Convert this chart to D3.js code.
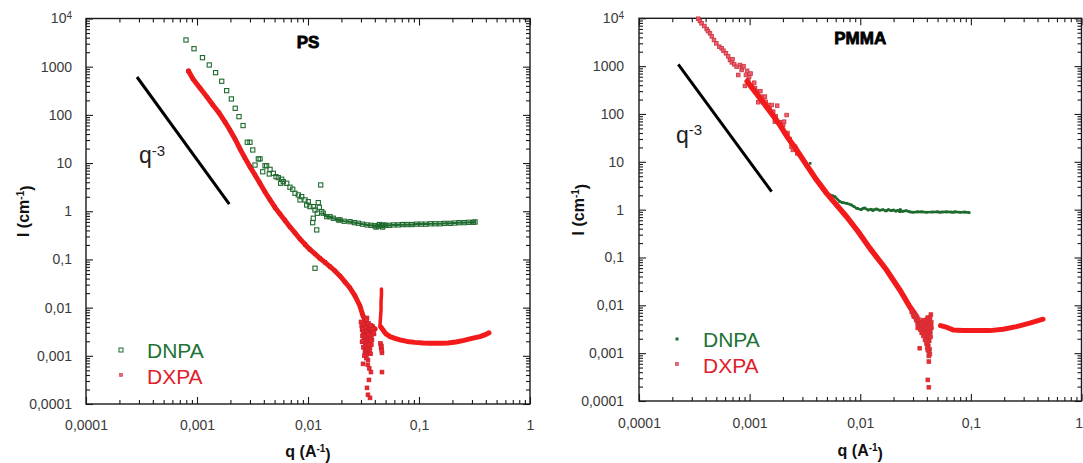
<!DOCTYPE html>
<html><head><meta charset="utf-8">
<script src="https://cdn.jsdelivr.net/npm/d3@7"></script>
<style>body{margin:0;background:#fff}svg{display:block}</style>
</head><body>
<svg id="chart" width="1083" height="463"></svg>
<script>
// ---------- data ----------
const xMajor = [1e-4, 1e-3, 1e-2, 1e-1, 1];
const xMajorLabels = ["0,0001", "0,001", "0,01", "0,1", "1"];
const yMajor = [1e-4, 1e-3, 1e-2, 1e-1, 1, 10, 100, 1000, 1e4];
const yMajorLabels = ["0,0001", "0,001", "0,01", "0,1", "1", "10", "100", "1000", "10^4"];
const seriesNames = ["DNPA", "DXPA"];
const panelTitles = ["PS", "PMMA"];
const slopeLabel = ["q", "-3"];

// PS panel
const psDnpa = [
  [7.96e-4,3580],[9.4e-4,2360],[1.12e-3,1540],[1.29e-3,1085],[1.47e-3,751],[1.67e-3,498],[1.85e-3,318],
  [2.04e-3,214],[2.21e-3,137],[2.39e-3,92],[2.6e-3,60],[2.84e-3,27],[3.0e-3,27],[3.18e-3,18.7],
  [3.57e-3,12.2],[3.7e-3,12.2],[3.33e-3,9.1],[4.1e-3,8.8],[4.24e-3,8.8],[3.91e-3,6.6],[4.55e-3,7.4],
  [4.48e-3,5.94],[4.87e-3,6.14],[5.15e-3,5.22],[5.4e-3,4.98],[5.79e-3,4.61],[5.99e-3,4.11],[5.67e-3,3.81],
  [6.43e-3,3.81],[6.88e-3,3.15],[7.28e-3,2.86],[7.64e-3,2.36],[8.18e-3,2.18],[8.77e-3,2.01],[8.47e-3,1.72],
  [9.4e-3,1.72],[0.01006,1.58],[9.73e-3,1.35],[0.0104,1.25],[0.01116,1.25],[0.01156,1.06],[0.01238,1.51],
  [0.01264,1.21],[0.01213,0.91],[0.01328,0.98],[0.01116,0.716],[0.01102,0.58],[0.01198,0.41],
  [0.01302,3.51],[0.01156,0.0657]
];
const psDnpaFlat = [
  [0.0137,0.91],[0.01474,0.773],[0.0158,0.77],[0.0169,0.716],[0.0188,0.66],[0.01942,0.66],[0.0212,0.62],
  [0.0239,0.608],[0.0262,0.58],[0.0284,0.564],[0.031,0.54],[0.034,0.52],[0.037,0.51],[0.040,0.50],
  [0.041,0.47],[0.043,0.49],[0.044,0.53],[0.046,0.50],[0.047,0.47],[0.048,0.52],[0.050,0.51],[0.054,0.51],
  [0.059,0.52],[0.065,0.52],[0.071,0.53],[0.078,0.53],[0.086,0.53],[0.095,0.54],[0.105,0.54],[0.115,0.54],
  [0.127,0.55],[0.14,0.55],[0.155,0.55],[0.17,0.56],[0.19,0.56],[0.21,0.57],[0.23,0.58],[0.255,0.58],
  [0.28,0.59],[0.31,0.59],[0.32,0.60]
];
const psDxpaBand = [
  [8.38e-4,814],[9.2e-4,556],[1.064e-3,361],[1.23e-3,235],[1.39e-3,160],[1.58e-3,110],[1.79e-3,71],
  [1.98e-3,48.6],[2.2e-3,31.6],[2.44e-3,19.6],[2.7e-3,12.8],[3.0e-3,8.4],[3.33e-3,5.66],[3.69e-3,3.81],
  [4.1e-3,2.51],[4.55e-3,1.72],[5.04e-3,1.2],[5.59e-3,0.88],[6.21e-3,0.644],[6.88e-3,0.472],[7.64e-3,0.355],
  [8.47e-3,0.266],[9.4e-3,0.205],[0.0104,0.161],[0.01156,0.13],[0.01282,0.105],[0.01422,0.0867],
  [0.01578,0.071],[0.0175,0.0577],[0.0194,0.0455],[0.0215,0.0341],[0.0239,0.0256],[0.0265,0.0175],
  [0.0294,0.0108],[0.0313,0.00673],[0.0333,0.00505],[0.0362,0.00417],[0.0402,0.00361]
];
const psDxpaSpike = [
  [0.0459,0.0244],[0.0459,0.0183],[0.0455,0.0131],[0.0455,0.00896],[0.045,0.00611],[0.0445,0.00417]
];
const psDxpaTail = [
  [0.0452,0.0040],[0.0474,0.00345],[0.0504,0.00285],[0.0548,0.0025],[0.0608,0.0023],[0.0674,0.00214],
  [0.078,0.00199],[0.092,0.0019],[0.1087,0.00185],[0.128,0.00182],[0.1545,0.00182],[0.182,0.00185],
  [0.215,0.00194],[0.254,0.00209],[0.3,0.0023],[0.354,0.0025],[0.4015,0.00278],[0.427,0.003]
];
const psDxpaScatter = [
  [0.0307,0.00345],[0.0319,0.00235],[0.0333,0.00168],[0.0347,0.00271],[0.0326,0.00121],[0.0313,0.00068],
  [0.0347,0.00082],[0.0362,0.00146],[0.0377,0.00214],[0.0369,0.00046],[0.0354,0.000316],[0.034,0.000216],
  [0.0347,0.000155],[0.0362,0.000134],[0.030,0.00505],[0.0393,0.00285],[0.0319,0.00379],[0.034,0.00611],
  [0.0354,0.00345],[0.0307,0.00194],[0.032,0.003],[0.033,0.0028],[0.0335,0.0022],[0.0345,0.0019],
  [0.035,0.0024],[0.0355,0.0029],[0.036,0.0033],[0.0365,0.0026],[0.037,0.0031],[0.0375,0.0037],
  [0.038,0.0041],[0.0315,0.0015],[0.033,0.0013],[0.034,0.0011],[0.0335,0.0009],[0.0355,0.0019],
  [0.0372,0.0017],[0.031,0.0026],[0.0325,0.0045],[0.0342,0.0038],
  [0.0305,0.0042],[0.031,0.0036],[0.0315,0.0031],[0.0318,0.0044],[0.0322,0.0026],[0.0328,0.0033],
  [0.0332,0.0039],[0.0336,0.0030],[0.0338,0.0025],[0.0343,0.0032],[0.0348,0.0022],[0.0352,0.0028],
  [0.0358,0.0035],[0.0362,0.0023],[0.0366,0.0036],[0.0368,0.0021],[0.0373,0.0027],[0.0378,0.0032],
  [0.0383,0.0036],[0.0387,0.0030],[0.0312,0.0020],[0.0328,0.0017],[0.0345,0.0014],[0.0358,0.0012],
  [0.0338,0.0016],[0.0352,0.0017],[0.0366,0.0011],[0.0322,0.0010],[0.0346,0.00065],[0.0356,0.00055],
  [0.0336,0.0056],[0.0352,0.0047],[0.0368,0.0043],
  [0.0455,0.00146],[0.0464,0.00115],[0.0464,0.00046],[0.045,0.0018],[0.0462,0.0013],[0.0458,0.0016]
];
const psSlope = [[2.88e-4,611],[1.954e-3,1.4]];

// PMMA panel
const pmmaDnpa = [
  [3.53e-3,9.3],[5.31e-3,2.03],[5.6e-3,1.95],[5.9e-3,1.87],[6.54e-3,1.47],[7.0e-3,1.4],[7.52e-3,1.36],
  [8.34e-3,1.25],[8.8e-3,1.15],[9.26e-3,1.07],[0.0095,1.05],[0.0102,1.0],[0.01062,1.07],[0.011,1.08],
  [0.0118,0.98],[0.0125,1.02],[0.013,0.96],[0.01308,0.985],[0.014,1.03],[0.015,0.97],[0.016,1.0],
  [0.017,0.94],[0.01728,0.953],[0.018,1.0],[0.019,0.95],[0.02,0.98],[0.021,0.93],[0.022,0.97],
  [0.0228,0.908],[0.023,1.0],[0.024,0.92],[0.026,0.95],[0.028,0.9],[0.03,0.883],[0.033,0.9],[0.036,0.9],
  [0.0397,0.883],[0.045,0.89],[0.05,0.9],[0.0524,0.883],[0.055,0.89],[0.06,0.9],[0.066,0.89],
  [0.069,0.883],[0.072,0.9],[0.08,0.88],[0.088,0.89],[0.0963,0.866]
];
const pmmaDxpaScatter = [
  [3.43e-4,9800],[3.55e-4,8800],[3.68e-4,7860],[3.9e-4,6900],[4.09e-4,5970],[4.2e-4,5400],[4.38e-4,4860],
  [4.55e-4,4200],[4.76e-4,3520],[5.0e-4,3000],[5.31e-4,2550],[5.59e-4,2360],[5.8e-4,2100],[6.11e-4,1856],
  [6.4e-4,1600],[6.64e-4,1344],[6.9e-4,1200],[7.0e-4,1400],[7.26e-4,1093],[7.63e-4,974],[8.18e-4,1057],
  [8.47e-4,831],[7.89e-4,653],[8.6e-4,950],[8.8e-4,1000],[9.26e-4,653],[9.5e-4,800],[9.71e-4,513],
  [9.07e-4,385],[9.9e-4,600],[1.02e-3,700],[1.042e-3,372],[1.1e-3,450],[1.12e-3,350],[1.156e-3,292],
  [1.196e-3,176],[1.25e-3,300],[1.284e-3,230],[1.3e-3,200],[1.375e-3,230],[1.4e-3,180],[1.47e-3,154],
  [1.52e-3,130],[1.58e-3,154],[1.6e-3,100],[1.634e-3,112],[1.69e-3,69],[1.72e-3,90],[1.775e-3,149],
  [1.88e-3,67],[1.95e-3,55],[2.01e-3,59],[2.05e-3,69],[2.16e-3,95],[2.2e-3,40],[2.3e-3,30],
  [2.39e-3,20.7],[2.46e-3,17.7],[2.57e-3,20.7],[2.6e-3,19],[2.7e-3,15]
];
const pmmaDxpaBand = [
  [9.5e-4,480],[1.006e-3,404],[1.239e-3,216],[1.526e-3,113],[1.878e-3,58.9],[2.233e-3,31.1],[2.66e-3,17.7],
  [3.27e-3,8.6],[4.03e-3,4.18],[4.96e-3,2.2],[6.11e-3,1.25],[7.52e-3,0.714],[9.57e-3,0.347],[0.01221,0.156],
  [0.01728,0.055],[0.0228,0.021],[0.028,0.0094],[0.0323,0.0058]
];
const pmmaDxpaDip = [
  [0.02924,0.00728],[0.0318,0.00545],[0.0345,0.0045],[0.03754,0.00371],[0.04,0.00292],[0.04253,0.0024],
  [0.04166,0.00545],[0.04343,0.00389],[0.0331,0.00337],[0.036,0.00265],[0.03914,0.00208],[0.04081,0.00164],
  [0.0345,0.00127],[0.0408,0.00117],[0.04166,0.000876],[0.0417,0.000666],[0.0408,0.000276],[0.0417,0.000194],
  [0.033,0.0042],[0.035,0.0038],[0.038,0.0033],[0.0395,0.0041],[0.041,0.0035],[0.042,0.003],[0.0425,0.0046],
  [0.043,0.0028],[0.0405,0.0025],[0.0415,0.0021],[0.042,0.0018],[0.0412,0.0014],[0.0423,0.0012],
  [0.037,0.0049],[0.0435,0.0064],[0.044,0.0034],
  [0.030,0.0065],[0.0305,0.0058],[0.031,0.0062],[0.032,0.0049],[0.0325,0.0056],[0.034,0.0040],
  [0.0335,0.0051],[0.0355,0.0043],[0.036,0.0036],[0.0365,0.0041],[0.0375,0.0031],[0.0385,0.0038],
  [0.039,0.0027],[0.0398,0.0034],[0.0402,0.0045],[0.041,0.0029],[0.0418,0.0038],[0.0428,0.0034],
  [0.0432,0.0022],[0.0438,0.0044],[0.0372,0.0023],[0.0385,0.0019],[0.0397,0.0016],[0.0403,0.0013],
  [0.0415,0.0011],[0.0426,0.00095],[0.0348,0.0031],[0.0362,0.0027],[0.0378,0.0044],[0.0392,0.0049],
  [0.0406,0.0055],[0.0428,0.0055]
];
const pmmaDxpaTail = [
  [0.0531,0.00377],[0.0602,0.00349],[0.069,0.00306],[0.085,0.00296],[0.1123,0.00296],[0.148,0.00296],
  [0.1954,0.00316],[0.258,0.00359],[0.3404,0.00423],[0.449,0.00513]
];
const pmmaSlope = [[2.265e-4,1093],[1.58e-3,2.38]];

// ---------- layout / style ----------
const svg = d3.select("#chart");
const FONT = "'Liberation Sans', Arial, Helvetica, sans-serif";
const GREEN = "#1f6a2e", GREEN_TXT = "#217236";
const RED = "#f21a1a", RED_TXT = "#e0202c", RED_MK = "#c8323e";

const panels = [
  {x0: 86, x1: 530, y0: 18.5, y1: 404, xPad: 16, yPad: 14, ytx: 29, xtY: 457,
   legX: 121, legY: [350, 375], legTx: 147, legBase: [358, 384], titleY: 48,
   qX: 139, qBase: 163},
  {x0: 639, x1: 1081.5, y0: 18.3, y1: 401, xPad: 17, yPad: 15, ytx: 584, xtY: 456,
   legX: 677, legY: [339, 364], legTx: 703, legBase: [346.5, 372.5], titleY: 44,
   qX: 676, qBase: 142.5}
];

function minorTicks(lo, hi) {
  const out = [];
  for (let d = lo; d < hi * 0.999; d *= 10) for (let k = 2; k <= 9; k++) out.push(d * k);
  return out;
}

function drawPanel(p, idx) {
  const x = d3.scaleLog().domain([1e-4, 1]).range([p.x0, p.x1]);
  const y = d3.scaleLog().domain([1e-4, 1e4]).range([p.y1, p.y0]);
  const g = svg.append("g");

  g.append("rect").attr("x", p.x0).attr("y", p.y0).attr("width", p.x1 - p.x0).attr("height", p.y1 - p.y0)
    .attr("fill", "none").attr("stroke", "#1a1a1a").attr("stroke-width", 1.4);

  const xMin = minorTicks(1e-4, 1), yMin = minorTicks(1e-4, 1e4);
  const styleAxis = sel => {
    sel.select(".domain").remove();
    sel.selectAll(".tick line").attr("stroke", "#1a1a1a").attr("stroke-width", 1.1);
    sel.selectAll(".tick text").attr("fill", "#3a3a3a").style("font-family", FONT).style("font-size", "14px");
  };
  const xb = g.append("g").attr("transform", `translate(0,${p.y1})`)
    .call(d3.axisBottom(x).tickValues(xMajor).tickSizeInner(-7).tickSizeOuter(0).tickPadding(p.xPad)
      .tickFormat((d, i) => xMajorLabels[i])).call(styleAxis);
  if (idx === 1) {
    // last label sits on the picture's right edge: keep it fully visible
    xb.selectAll(".tick text").filter((d, i) => i === xMajor.length - 1)
      .attr("text-anchor", "end").attr("dx", "1px");
  }
  g.append("g").attr("transform", `translate(0,${p.y1})`)
    .call(d3.axisBottom(x).tickValues(xMin).tickSizeInner(-4).tickSizeOuter(0).tickFormat("")).call(styleAxis);
  g.append("g").attr("transform", `translate(0,${p.y0})`)
    .call(d3.axisTop(x).tickValues(xMajor).tickSizeInner(-7).tickSizeOuter(0).tickFormat("")).call(styleAxis);
  g.append("g").attr("transform", `translate(0,${p.y0})`)
    .call(d3.axisTop(x).tickValues(xMin).tickSizeInner(-4).tickSizeOuter(0).tickFormat("")).call(styleAxis);
  const yl = g.append("g").attr("transform", `translate(${p.x0},0)`)
    .call(d3.axisLeft(y).tickValues(yMajor).tickSizeInner(-7).tickSizeOuter(0).tickPadding(p.yPad)
      .tickFormat((d, i) => yMajorLabels[i])).call(styleAxis);
  yl.selectAll(".tick text").each(function (d, i) {
    const lab = yMajorLabels[i];
    if (lab.includes("^")) {
      const [b, e] = lab.split("^");
      const t = d3.select(this).text(null);
      t.append("tspan").text(b);
      t.append("tspan").attr("dy", "-0.45em").style("font-size", "10px").text(e);
    }
  });
  g.append("g").attr("transform", `translate(${p.x0},0)`)
    .call(d3.axisLeft(y).tickValues(yMin).tickSizeInner(-4).tickSizeOuter(0).tickFormat("")).call(styleAxis);
  g.append("g").attr("transform", `translate(${p.x1},0)`)
    .call(d3.axisRight(y).tickValues(yMajor).tickSizeInner(-7).tickSizeOuter(0).tickFormat("")).call(styleAxis);
  g.append("g").attr("transform", `translate(${p.x1},0)`)
    .call(d3.axisRight(y).tickValues(yMin).tickSizeInner(-4).tickSizeOuter(0).tickFormat("")).call(styleAxis);

  const xt = g.append("text").attr("x", (p.x0 + p.x1) / 2).attr("y", p.xtY).attr("text-anchor", "middle")
    .style("font-family", FONT).style("font-size", "16px").style("font-weight", "bold").attr("fill", "#111");
  xt.append("tspan").text("q (A");
  xt.append("tspan").attr("dy", "-0.5em").style("font-size", "10px").text("-1");
  xt.append("tspan").attr("dy", "0.5em").text(")");
  const yt = g.append("text").attr("transform", `translate(${p.ytx},${(p.y0 + p.y1) / 2}) rotate(-90)`)
    .attr("text-anchor", "middle").style("font-family", FONT).style("font-size", "16px")
    .style("font-weight", "bold").attr("fill", "#111");
  yt.append("tspan").text("I (cm");
  yt.append("tspan").attr("dy", "-0.5em").style("font-size", "10px").text("-1");
  yt.append("tspan").attr("dy", "0.5em").text(")");

  g.append("text").attr("x", (p.x0 + p.x1) / 2).attr("y", p.titleY).attr("text-anchor", "middle")
    .style("font-family", FONT).style("font-size", "17px").style("font-weight", "bold")
    .attr("fill", "#000").attr("stroke", "#000").attr("stroke-width", 0.8).text(panelTitles[idx]);

  const slope = idx === 0 ? psSlope : pmmaSlope;
  g.append("line").attr("x1", x(slope[0][0])).attr("y1", y(slope[0][1]))
    .attr("x2", x(slope[1][0])).attr("y2", y(slope[1][1]))
    .attr("stroke", "#000").attr("stroke-width", 3);
  const qt = g.append("text").attr("x", p.qX).attr("y", p.qBase).style("font-family", FONT)
    .style("font-size", "23px").attr("fill", "#222");
  qt.append("tspan").text(slopeLabel[0]);
  qt.append("tspan").attr("dy", "-0.48em").style("font-size", "15px").text(slopeLabel[1]);

  return {g, x, y};
}

function squares(g, data, x, y, size, fill, stroke, sw) {
  g.append("g").selectAll("rect").data(data).enter().append("rect")
    .attr("x", d => x(d[0]) - size / 2).attr("y", d => y(d[1]) - size / 2)
    .attr("width", size).attr("height", size)
    .attr("fill", fill).attr("stroke", stroke).attr("stroke-width", sw);
}
function band(g, data, x, y, color, w) {
  const line = d3.line().x(d => x(d[0])).y(d => y(d[1]));
  g.append("path").attr("d", line(data)).attr("fill", "none").attr("stroke", color)
    .attr("stroke-width", w).attr("stroke-linejoin", "round").attr("stroke-linecap", "round");
}
function legend(g, p, kind) {
  if (kind === 0) {
    g.append("rect").attr("x", p.legX - 2).attr("y", p.legY[0] - 2).attr("width", 4).attr("height", 4)
      .attr("fill", "none").attr("stroke", GREEN).attr("stroke-width", 1);
    g.append("rect").attr("x", p.legX - 1.5).attr("y", p.legY[1] - 1.5).attr("width", 3).attr("height", 3)
      .attr("fill", "#e86070").attr("stroke", "#d04050").attr("stroke-width", 0.6);
  } else {
    g.append("rect").attr("x", p.legX - 1.5).attr("y", p.legY[0] - 1.5).attr("width", 3).attr("height", 3)
      .attr("fill", GREEN);
    g.append("rect").attr("x", p.legX - 1.5).attr("y", p.legY[1] - 1.5).attr("width", 3).attr("height", 3)
      .attr("fill", "#e07080").attr("stroke", RED_MK).attr("stroke-width", 0.6);
  }
  g.append("text").attr("x", p.legTx).attr("y", p.legBase[0]).style("font-family", FONT)
    .style("font-size", "21px").attr("fill", GREEN_TXT).text(seriesNames[0]);
  g.append("text").attr("x", p.legTx).attr("y", p.legBase[1]).style("font-family", FONT)
    .style("font-size", "21px").attr("fill", RED_TXT).text(seriesNames[1]);
}

// ---- PS ----
{
  const p = panels[0];
  const {g, x, y} = drawPanel(p, 0);
  band(g, psDxpaBand, x, y, RED, 5);
  band(g, psDxpaSpike, x, y, RED, 3.5);
  band(g, psDxpaTail, x, y, RED, 5);
  squares(g, psDxpaBand, x, y, 3.5, RED, "#d42020", 0.6);
  squares(g, psDxpaScatter, x, y, 3.8, "#ee2828", "#c82030", 0.7);
  band(g, psDnpaFlat, x, y, GREEN, 2.2);
  squares(g, psDnpaFlat, x, y, 4.2, "none", GREEN, 1.1);
  squares(g, psDnpa, x, y, 4.2, "none", GREEN, 1.1);
  legend(g, p, 0);
}
// ---- PMMA ----
{
  const p = panels[1];
  const {g, x, y} = drawPanel(p, 1);
  band(g, pmmaDnpa.slice(1), x, y, GREEN, 2.6);
  squares(g, pmmaDnpa, x, y, 2.6, GREEN, "none", 0);
  squares(g, pmmaDxpaScatter, x, y, 3.6, "#f06070", RED_MK, 0.8);
  band(g, pmmaDxpaBand, x, y, RED, 5.5);
  squares(g, pmmaDxpaDip, x, y, 3.8, "#f02a2a", RED_MK, 0.7);
  band(g, pmmaDxpaTail, x, y, RED, 5);
  legend(g, p, 1);
}
</script>
</body></html>
